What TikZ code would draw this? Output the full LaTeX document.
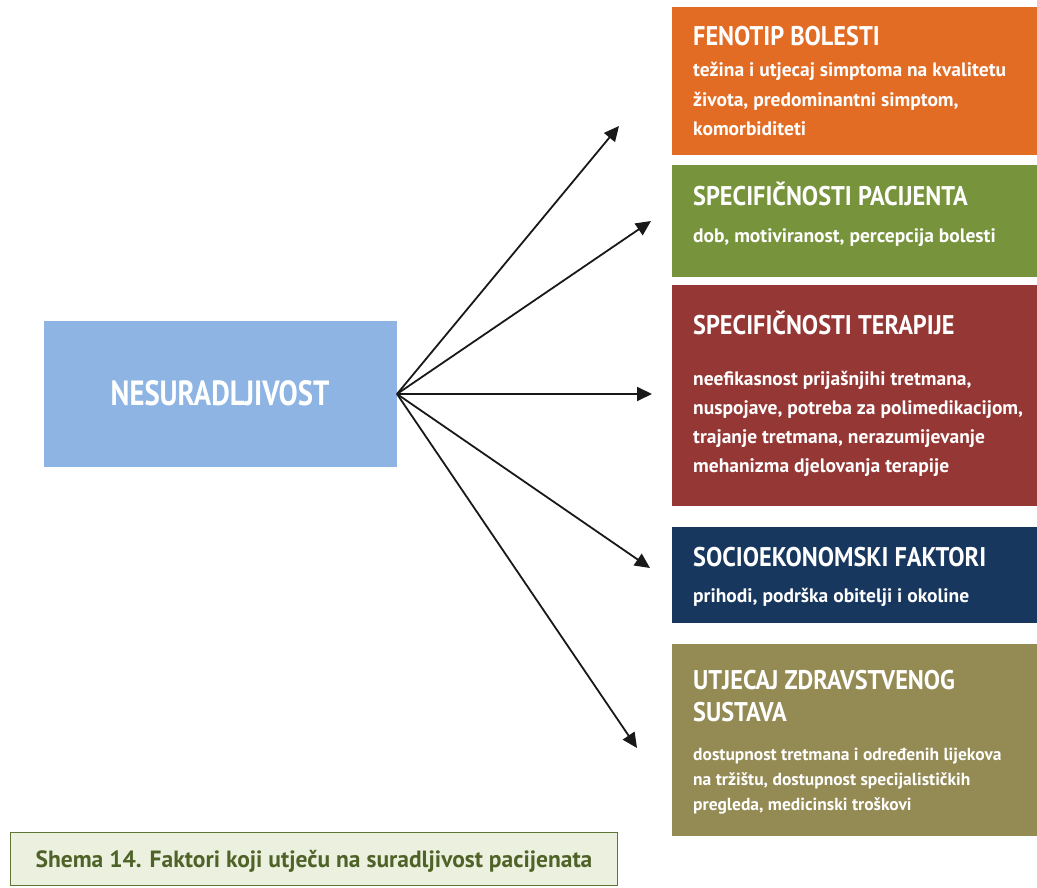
\documentclass[tikz,border=0pt]{standalone}
\usepackage{fontspec}
\setmainfont{PT Sans}
\newfontfamily\headfont{PT Sans}[FakeStretch=0.90]
\newfontfamily\bodyfont{PT Sans}
\newfontfamily\srcfont{PT Sans}[FakeStretch=0.82]
\newfontfamily\capfont{PT Sans}
\usetikzlibrary{arrows.meta}
\definecolor{cOrange}{HTML}{E36C25}
\definecolor{cGreen}{HTML}{77933C}
\definecolor{cRed}{HTML}{953735}
\definecolor{cNavy}{HTML}{17375E}
\definecolor{cOlive}{HTML}{948A54}
\definecolor{cBlue}{HTML}{8EB4E3}
\definecolor{capFill}{HTML}{EBF1DE}
\definecolor{capLine}{HTML}{5E7533}
\definecolor{capText}{HTML}{4F6228}
\begin{document}
\begin{tikzpicture}[x=1pt,y=-1pt,
  box/.style={anchor=north west, inner sep=0pt, outer sep=0pt, draw=none, minimum width=365pt},
  head/.style={anchor=base west, inner sep=0pt, text=white, align=left,
    font=\headfont\bfseries\fontsize{27}{32}\selectfont},
  body/.style={anchor=base west, inner sep=0pt, text=white, align=left,
    font=\bodyfont\bfseries\fontsize{19.5}{29}\selectfont},
  arr/.style={line width=1.8pt, -{Triangle[length=15pt,width=14pt]}, black!90}]
\useasboundingbox (0,0) rectangle (1037,888);
% right boxes
\node[box, fill=cOrange, minimum height=148pt] (b1) at (672,7) {};
\node[box, fill=cGreen,  minimum height=112pt] (b2) at (672,165) {};
\node[box, fill=cRed,    minimum height=221pt] (b3) at (672,285) {};
\node[box, fill=cNavy,   minimum height=96pt]  (b4) at (672,527) {};
\node[box, fill=cOlive,  minimum height=192pt] (b5) at (672,644) {};
% texts (multi-line nodes: base = last line)
\node[head] (h1) at (693,46) {FENOTIP BOLESTI};
\node[body, font=\bodyfont\bfseries\fontsize{19.5}{29.5}\selectfont] (t1) at (693,136) {težina i utjecaj simptoma na kvalitetu\\života, predominantni simptom,\\komorbiditeti};
\node[head] (h2) at (693,206) {SPECIFIČNOSTI PACIJENTA};
\node[body] (t2) at (693,243) {dob, motiviranost, percepcija bolesti};
\node[head] (h3) at (693,334) {SPECIFIČNOSTI TERAPIJE};
\node[body, font=\bodyfont\bfseries\fontsize{19.5}{28.7}\selectfont] (t3) at (693,472) {neefikasnost prijašnjihi tretmana,\\nuspojave, potreba za polimedikacijom,\\trajanje tretmana, nerazumijevanje\\mehanizma djelovanja terapije};
\node[head] (h4) at (693,566) {SOCIOEKONOMSKI FAKTORI};
\node[body] (t4) at (693,602) {prihodi, podrška obitelji i okoline};
\node[head] (h5) at (693,721) {UTJECAJ ZDRAVSTVENOG\\SUSTAVA};
\node[body, font=\bodyfont\bfseries\fontsize{17.5}{25}\selectfont] (t5) at (693,810) {dostupnost tretmana i određenih lijekova\\na tržištu, dostupnost specijalističkih\\pregleda, medicinski troškovi};
% source box
\node[fill=cBlue, inner sep=0pt, outer sep=0pt, minimum width=353pt, minimum height=146pt] (src) at (220.5,394) {};
\node[anchor=base, inner sep=0pt, text=white, font=\srcfont\bfseries\fontsize{35}{40}\selectfont] (srct) at (220,405) {NESURADLJIVOST};
% arrows
\coordinate (e1) at (619,126);
\coordinate (e2) at (651,221);
\coordinate (e3) at (652,394);
\coordinate (e4) at (650,568);
\coordinate (e5) at (637,748);
\foreach \e in {e1,e2,e3,e4,e5} \draw[arr] (src.east) -- (\e);
% caption
\node[draw=capLine, line width=1.6pt, fill=capFill, inner sep=0pt, minimum width=607pt, minimum height=53pt] (cap) at (314,859) {};
\node[anchor=base, inner sep=0pt, text=capText, font=\capfont\bfseries\fontsize{23.5}{26}\selectfont] (capt) at (314,867) {Shema 14. Faktori koji utječu na suradljivost pacijenata};
\end{tikzpicture}
\end{document}
